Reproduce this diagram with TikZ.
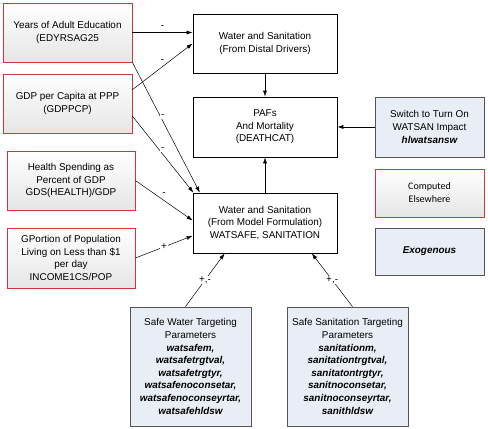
\documentclass[tikz,border=0pt]{standalone}
\usepackage{fontspec}
\setmainfont{Liberation Sans}
\newfontfamily\calibrifont{Carlito}
\usetikzlibrary{arrows.meta,shadows}

\definecolor{boxred}{RGB}{205,55,55}
\definecolor{exofill}{RGB}{233,237,245}
\definecolor{exodraw}{RGB}{85,85,85}

\begin{document}
\begin{tikzpicture}[x=1pt,y=-1pt,->,>={Latex[length=6pt,width=4pt]},line width=0.5pt,
    font=\fontsize{9.9}{12.6}\selectfont]
    \tikzstyle{box}=[rectangle,align=center,inner sep=2pt]
    \tikzstyle{computed box}=[box,draw=boxred,line width=0.8pt,top color=white,bottom color=black!10,
        drop shadow={shadow xshift=1pt,shadow yshift=-1pt,opacity=0.25}]
    \tikzstyle{exo box}=[box,draw=exodraw,line width=0.8pt,fill=exofill,
        drop shadow={shadow xshift=1pt,shadow yshift=-1pt,opacity=0.25}]
    \tikzstyle{model box}=[box,draw=black,line width=0.8pt,fill=white]
    \tikzstyle{sign}=[fill=white,inner sep=1pt]

    \useasboundingbox (0,0) rectangle (488,429);

    % Draw the driver boxes on the left
    \node[computed box,minimum width=129,minimum height=59] (edu) at (67.5,32.5)
        {Years of Adult Education\\(EDYRSAG25};
    \node[computed box,minimum width=129,minimum height=59] (gdp) at (67.5,103.5)
        {GDP per Capita at PPP\\(GDPPCP)};
    \node[computed box,minimum width=128,minimum height=59] (health) at (71,180.5)
        {Health Spending as\\Percent of GDP\\GDS(HEALTH)/GDP};
    \node[computed box,minimum width=128,minimum height=60] (income) at (71,258)
        {GPortion of Population\\Living on Less than \$1\\per day\\INCOME1CS/POP};

    % Draw the model boxes in the middle
    \node[model box,minimum width=144,minimum height=59] (distal) at (265,43.5)
        {Water and Sanitation\\(From Distal Drivers)};
    \node[model box,minimum width=144,minimum height=60] (pafs) at (265,127)
        {PAFs\\And Mortality\\(DEATHCAT)};
    \node[model box,minimum width=144,minimum height=60] (watsan) at (265,223)
        {Water and Sanitation\\(From Model Formulation)\\WATSAFE, SANITATION};

    % Draw the switch and the legend on the right
    \node[exo box,minimum width=109,minimum height=60] (switch) at (429.5,127)
        {Switch to Turn On\\WATSAN Impact\\{\bfseries\itshape hlwatsansw}};
    \node[computed box,minimum width=109,minimum height=48,font=\calibrifont\fontsize{10}{13}\selectfont]
        (computed) at (429.5,193) {Computed\\Elsewhere};
    \node[exo box,minimum width=109,minimum height=47] (exogenous) at (429.5,251.5)
        {\bfseries\itshape Exogenous};

    % Draw the targeting parameter boxes
    \node[exo box,minimum width=121,minimum height=119] (water) at (190.5,366.5)
        {Safe Water Targeting\\Parameters\\
        {\bfseries\itshape watsafem,}\\{\bfseries\itshape watsafetrgtval,}\\
        {\bfseries\itshape watsafetrgtyr,}\\{\bfseries\itshape watsafenoconsetar,}\\
        {\bfseries\itshape watsafenoconseyrtar,}\\{\bfseries\itshape watsafehldsw}};
    \node[exo box,minimum width=121,minimum height=119] (sanit) at (347.5,366.5)
        {Safe Sanitation Targeting\\Parameters\\
        {\bfseries\itshape sanitationm,}\\{\bfseries\itshape sanitationtrgtval,}\\
        {\bfseries\itshape sanitatontrgtyr,}\\{\bfseries\itshape sanitnoconsetar,}\\
        {\bfseries\itshape sanitnoconseyrtar,}\\{\bfseries\itshape sanithldsw}};

    % Connect the drivers with the distal estimate
    \path (edu.east) edge node[sign,yshift=6pt] {-} (edu.east -| distal.west);
    \path (gdp.12) edge node[sign,yshift=6pt] {-} (distal.west);

    % Connect the drivers with the model formulation
    \path (edu.south east) edge node[sign,pos=0.45,yshift=5pt] {-} (watsan.155);
    \path (gdp.-11) edge node[sign,yshift=5pt] {-} (watsan.157);
    \path (health.east) edge node[sign,yshift=6pt] {-} (watsan.178);
    \path (income.east) edge node[sign] {+} (watsan.190);

    % Connect the targeting parameters
    \path (water.north) ++(-5,0) edge node[sign] {+,-} (watsan.-143);
    \path (sanit.north) ++(5,0) edge node[sign] {+,-} (watsan.-33);

    % Connect the estimates with the mortality
    \path (distal) edge (pafs);
    \path (watsan) edge (pafs);
    \path (switch) edge (pafs);
\end{tikzpicture}
\end{document}
